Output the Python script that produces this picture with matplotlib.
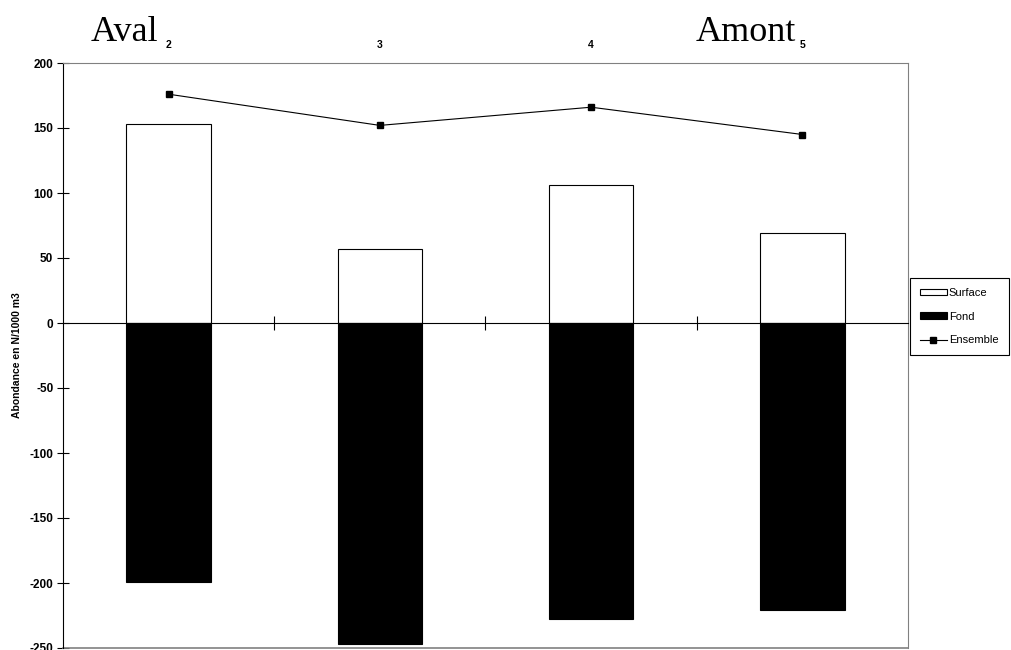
import matplotlib
matplotlib.use("Agg")
import matplotlib.pyplot as plt
import matplotlib.transforms as mtransforms
import numpy as np

# abundance per station (N/1000 m3)
stations = ["2", "3", "4", "5"]
surface = [153, 57, 106, 69]
fond = [-199, -247, -228, -221]
ensemble = [176, 152, 166, 145]

plt.rcParams["font.family"] = ["Liberation Sans", "DejaVu Sans"]
plt.rcParams["axes.unicode_minus"] = False

fig = plt.figure(figsize=(10.12, 6.5), dpi=100)
ax = fig.add_axes([63 / 1012, 2 / 650, 845 / 1012, 585 / 650])

x = np.arange(len(stations))
w = 0.4
h_surf = ax.bar(x, surface, w, color="white", edgecolor="black", linewidth=0.8, zorder=2)
h_fond = ax.bar(x, fond, w, color="black", edgecolor="black", linewidth=0.8, zorder=2)
h_ens, = ax.plot(x, ensemble, color="black", linewidth=0.8, marker="s", markersize=5, zorder=3)

ax.set_xlim(-0.5, len(stations) - 0.5)
ax.set_ylim(-250, 200)
ax.set_yticks(np.arange(-250, 201, 50))
ax.tick_params(axis="y", direction="inout", length=8, width=0.8, labelsize=8.5, pad=3)
for t in ax.get_yticklabels():
    t.set_fontweight("bold")

# category axis sits on zero, ticks between stations
ax.spines["bottom"].set_position(("data", 0))
ax.spines["bottom"].set_linewidth(0.8)
ax.spines["left"].set_linewidth(0.8)
for s in ["top", "right"]:
    ax.spines[s].set_color("#808080")
ax.axhline(-250, color="#808080", linewidth=1.2, clip_on=False)
ax.set_xticks(x[:-1] + 0.5)
ax.set_xticklabels([])
ax.tick_params(axis="x", direction="inout", length=10, width=0.8)

# station labels above the plot
trans = mtransforms.blended_transform_factory(ax.transData, ax.transAxes)
for xi, lab in zip(x, stations):
    ax.text(xi, 1.03, lab, transform=trans, ha="center", va="center",
            fontsize=7.5, fontweight="bold")
ax.text(x[0] - 0.05, 1.052, "Aval", transform=trans, ha="right", va="center",
        fontsize=26, family="Liberation Serif")
ax.text(x[-1] - 0.03, 1.052, "Amont", transform=trans, ha="right", va="center",
        fontsize=26, family="Liberation Serif")

ax.set_ylabel("Abondance en N/1000 m3", fontsize=7.5, fontweight="bold", labelpad=5)

leg = ax.legend([h_surf, h_fond, h_ens], ["Surface", "Fond", "Ensemble"],
                loc="center left", bbox_to_anchor=(910 / 1012, (650 - 316.5) / 650),
                bbox_transform=fig.transFigure, borderaxespad=0, fontsize=8,
                frameon=True, fancybox=False, edgecolor="black", framealpha=1,
                handlelength=2.4, handleheight=0.5, borderpad=0.9, labelspacing=1.25,
                handletextpad=0.2)
leg.get_frame().set_linewidth(0.8)

fig.savefig("out.png", dpi=100)
